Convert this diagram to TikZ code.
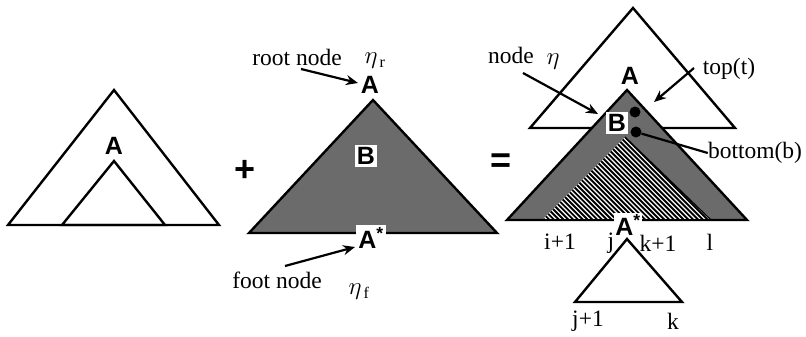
\documentclass[tikz,border=0pt]{standalone}
\usepackage{fontspec}
\setmainfont{Liberation Serif}
\newfontfamily\lsans{Liberation Sans}
\usetikzlibrary{arrows.meta}
\begin{document}
\begin{tikzpicture}[x=1pt,y=-1pt,
  tri/.style={line width=2.4pt, line join=miter},
  lbl/.style={font=\fontsize{23.5}{23.5}\selectfont, inner sep=0pt},
  greek/.style={font=\fontsize{23}{23}\selectfont, inner sep=0pt},
  bigA/.style={font=\lsans\bfseries\fontsize{25}{25}\selectfont, inner sep=1.5pt},
  boxA/.style={bigA, fill=white, inner sep=2pt},
  arr/.style={line width=2.2pt, -{Stealth[length=12pt,width=10pt]}},
  dotc/.style={circle, fill=black, inner sep=0pt, minimum size=11pt},
  shaded/.style={fill=black!58},
  opsym/.style={font=\lsans\bfseries\fontsize{36}{36}\selectfont, inner sep=0pt}]
\useasboundingbox (0,0) rectangle (806,337);

% ---------- left tree ----------
\draw[tri] (114,90) -- (8,225) -- (219,225) -- cycle;
\draw[tri] (114,161) -- (62,225) -- (165,225) -- cycle;
\node[bigA] (aleft) at (114,146) {A};

\node[opsym] (plus) at (245,171) {+};

% ---------- auxiliary tree ----------
\draw[tri, shaded] (373,100) -- (249,233) -- (497,233) -- cycle;
\node[boxA] (bmid) at (366,156) {B};
\node[bigA] (aroot) at (370,85) {A};
\node[boxA] (afoot) at (371,238) {A\textsuperscript{*}};

\node[lbl] (rootlbl) at (297,57) {root node};
\node[greek] (etar) at (375,61) {$\eta_{\,\mathrm{r}}$};
\coordinate (rootS) at (301,69);
\coordinate (rootE) at (358,83);
\draw[arr] (rootS) -- (rootE);

\node[lbl] (footlbl) at (277,280) {foot node};
\node[greek] (etaf) at (359,292) {$\eta_{\,\mathrm{f}}$};
\coordinate (footS) at (285,266);
\coordinate (footE) at (355,247);
\draw[arr] (footS) -- (footE);

\node[opsym] (eq) at (501,163) {=};

% ---------- result tree ----------
\draw[tri] (633,8) -- (530,128) -- (735,128) -- cycle;
\draw[tri, shaded] (627,90) -- (507,220) -- (747,220) -- cycle;
\fill[white] (625,137) -- (542,220) -- (711,220) -- cycle;
\begin{scope}
  \clip (625,137) -- (542,220) -- (711,220) -- cycle;
  \foreach \i in {0,...,60} {
    \draw[line width=1.9pt] (440+\i*4.8,120) -- ++(110,110);
  }
\end{scope}
\draw[line width=1.2pt] (625,137) -- (711,220);
\draw[tri] (507,220) -- (747,220);

\node[bigA] (aright) at (630,76) {A};
\node[boxA] (bright) at (617,123) {B};
\node[dotc] (dtop) at (635,112) {};
\node[dotc] (dbot) at (636,132) {};
\node[boxA, inner sep=1pt] (afoot2) at (628,225) {A\textsuperscript{*}};

\node[lbl] (nodelbl) at (511,55) {node};
\node[greek] (eta) at (553,62) {$\eta$};
\coordinate (nodeS) at (523,73);
\coordinate (nodeE) at (598,114);
\draw[arr] (nodeS) -- (nodeE);

\node[lbl] (toplbl) at (729,69) {top(t)};
\coordinate (topS) at (694,68);
\coordinate (topE) at (654,102);
\draw[arr] (topS) -- (topE);

\node[lbl] (botlbl) at (755,153) {bottom(b)};
\draw[line width=2.2pt] (dbot) -- (botlbl.west);

\node[lbl] (li1) at (560,242) {i+1};
\node[lbl] (lj) at (611,243) {j};
\node[lbl] (lk1) at (658,243) {k+1};
\node[lbl] (ll) at (710,242) {l};

\draw[tri] (627,239) -- (575,302) -- (682,302) -- cycle;
\node[lbl] (lj1) at (588,321) {j+1};
\node[lbl] (lk) at (673,321) {k};
\end{tikzpicture}
\end{document}
